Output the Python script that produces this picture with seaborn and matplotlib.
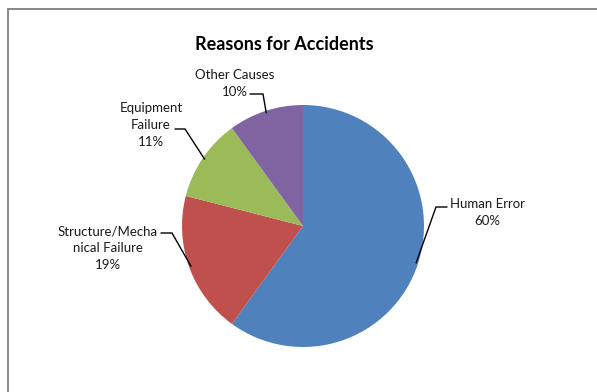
import numpy as np
import matplotlib
matplotlib.use("Agg")
import matplotlib.pyplot as plt
from matplotlib.patches import Rectangle
import seaborn as sns

# ---- data ----
categories = ["Human Error", "Structure/Mechanical Failure", "Equipment Failure", "Other Causes"]
values = [60, 19, 11, 10]
label_texts = ["Human Error\n60%", "Structure/Mecha\nnical Failure\n19%", "Equipment\nFailure\n11%", "Other Causes\n10%"]
colors = ["#4F81BD", "#C0504D", "#9BBB59", "#8064A2"]
title = "Reasons for Accidents"

sns.set_theme(style="white")
plt.rcParams['font.family'] = ['Lato', 'DejaVu Sans']

W, H = 597, 392
fig = plt.figure(figsize=(W / 100, H / 100), dpi=100)
ax = fig.add_axes([0, 0, 1, 1])

def Y(y):
    return H - y

cx, cy, R = 303, 226, 121
wedges, _ = ax.pie(values, colors=colors, startangle=90, counterclock=False,
                   center=(cx, Y(cy)), radius=R, frame=True,
                   wedgeprops=dict(linewidth=0))
ax.set_xlim(0, W)
ax.set_ylim(0, H)
ax.set_aspect('equal')
ax.axis('off')

# label layout: (text center x, text center y, line start x, line y, elbow x)
layout = [
    (487, 212, 447, 207, 436),
    (108, 248, 161, 233, 172),
    (151, 125, 175, 129, 185),
    (235, 83, 250, 94, 263),
]
for w, txt, (tx, ty, lx, ly, ex) in zip(wedges, label_texts, layout):
    mid = np.deg2rad((w.theta1 + w.theta2) / 2)
    px = cx + (R - 2) * np.cos(mid)
    py = Y(cy) + (R - 2) * np.sin(mid)
    ax.text(tx, Y(ty), txt, ha='center', va='center', fontsize=9.5,
            color='#1a1a1a', linespacing=1.5)
    ax.plot([lx, ex, px], [Y(ly), Y(ly), py], color='black', lw=1.0,
            solid_joinstyle='miter')

ax.text(284, Y(44), title, ha='center', va='center', fontsize=13,
        fontweight='bold', color='black')

# chart frame (top and left visible)
ax.add_patch(Rectangle((8, -20), 700, Y(9) + 20, fill=False,
                       edgecolor='#7f7f7f', lw=1.3))

fig.savefig("out.png", dpi=100)
